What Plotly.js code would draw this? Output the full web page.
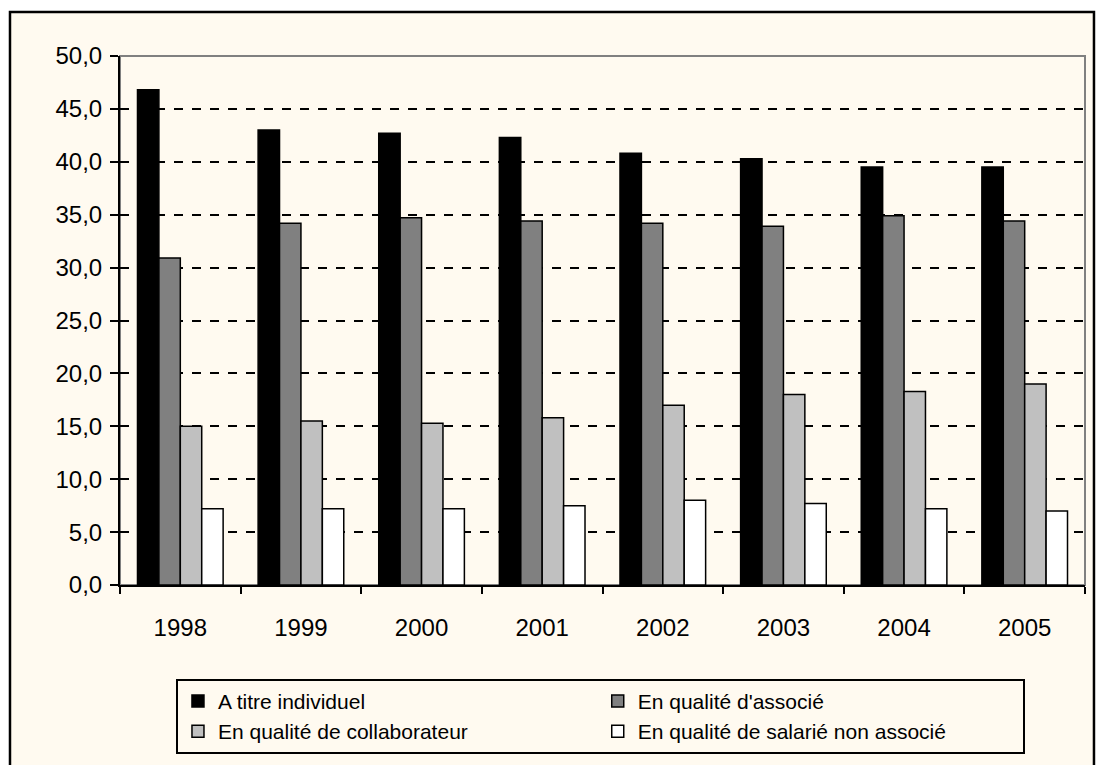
<!DOCTYPE html>
<html>
<head>
<meta charset="utf-8">
<script src="https://cdn.plot.ly/plotly-3.0.1.min.js"></script>
<style>
html,body{margin:0;padding:0;background:#ffffff;}
#chart{width:1097px;height:765px;}
</style>
</head>
<body>
<div id="chart"></div>
<script>
const years = ["1998","1999","2000","2001","2002","2003","2004","2005"];
const seriesNames = ["A titre individuel","En qualité d'associé","En qualité de collaborateur","En qualité de salarié non associé"];
const individuel = [46.8, 43.0, 42.7, 42.3, 40.8, 40.3, 39.5, 39.5];
const associe = [30.9, 34.2, 34.7, 34.4, 34.2, 33.9, 34.9, 34.4];
const collaborateur = [15.0, 15.5, 15.3, 15.8, 17.0, 18.0, 18.3, 19.0];
const salarie = [7.2, 7.2, 7.2, 7.5, 8.0, 7.7, 7.2, 7.0];
const yTickVals = [0,5,10,15,20,25,30,35,40,45,50];
const yTickText = ["0,0","5,0","10,0","15,0","20,0","25,0","30,0","35,0","40,0","45,0","50,0"];

const colors = ["#000000","#808080","#C0C0C0","#FFFFFF"];
const values = [individuel, associe, collaborateur, salarie];

const traces = values.map((v, i) => ({
  type: "bar",
  name: seriesNames[i],
  x: years,
  y: v,
  marker: {color: colors[i], line: {color: "#000000", width: 1.5}},
  hoverinfo: "x+y+name"
}));

const font = "Liberation Sans, Arial, sans-serif";
const layout = {
  width: 1097, height: 765,
  margin: {l: 120, r: 12, t: 56, b: 179},
  paper_bgcolor: "#ffffff",
  plot_bgcolor: "#FFFFCC",
  barmode: "group",
  bargap: 0.29,
  bargroupgap: 0,
  font: {family: font, color: "#000000"},
  xaxis: {
    type: "category",
    tickson: "boundaries",
    ticks: "outside", ticklen: 7, tickwidth: 2, tickcolor: "#000000",
    ticklabelstandoff: 20,
    showline: true, linecolor: "#000000", linewidth: 2,
    showgrid: false,
    tickfont: {size: 24, family: font, color: "#000000"},
    fixedrange: true
  },
  yaxis: {
    range: [0, 50],
    tickvals: yTickVals, ticktext: yTickText,
    ticks: "outside", ticklen: 8, tickwidth: 2, tickcolor: "#000000",
    ticklabelstandoff: 3,
    showline: true, linecolor: "#000000", linewidth: 2,
    showgrid: true, gridcolor: "#000000", gridwidth: 1.5, griddash: "dash",
    zeroline: false,
    tickfont: {size: 24, family: font, color: "#000000"},
    fixedrange: true
  },
  showlegend: true,
  legend: {
    orientation: "h",
    x: 0.058, xanchor: "left",
    y: -0.175, yanchor: "top",
    entrywidth: 0.435, entrywidthmode: "fraction",
    bgcolor: "#FFFAF0",
    bordercolor: "#000000", borderwidth: 2,
    font: {size: 21, family: font, color: "#000000"},
    traceorder: "normal"
  },
  shapes: [
    {type: "rect", xref: "paper", yref: "paper", x0: -0.114, x1: 1.0093, y0: -0.36, y1: 1.083,
     fillcolor: "#FFFAF0", line: {color: "#000000", width: 2.5}, layer: "below"},
    {type: "rect", xref: "paper", yref: "paper", x0: 0, x1: 1, y0: 0, y1: 1,
     fillcolor: "rgba(0,0,0,0)", line: {color: "#808080", width: 2}, layer: "below"}
  ]
};

Plotly.newPlot("chart", traces, layout, {displayModeBar: false, staticPlot: false});
</script>
</body>
</html>
